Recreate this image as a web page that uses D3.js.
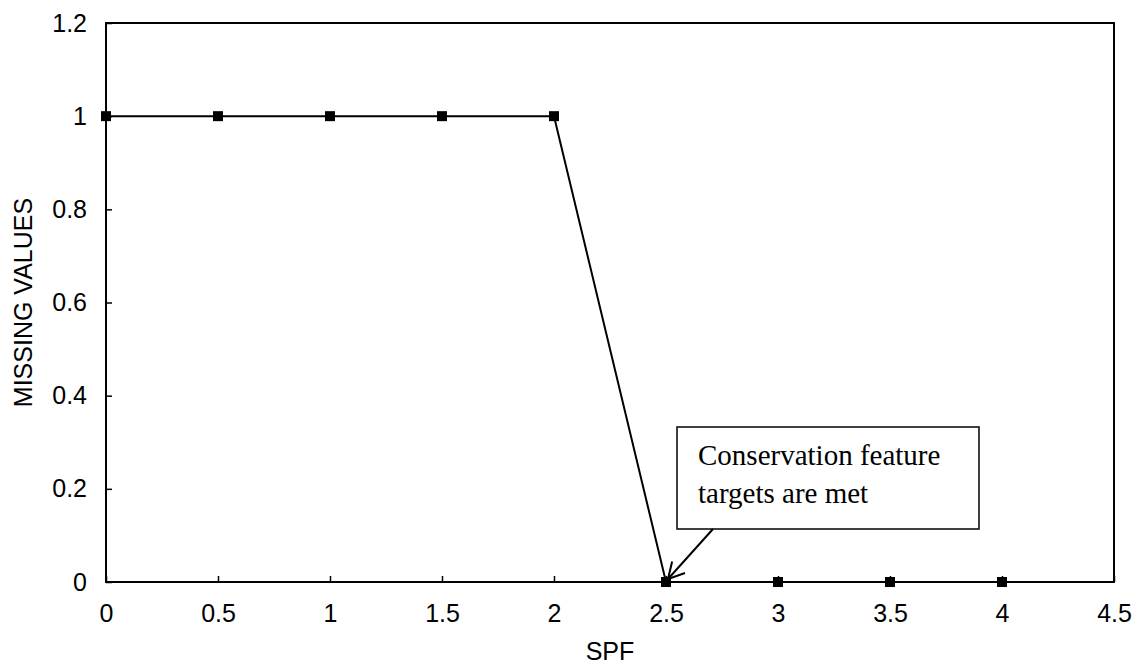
<!DOCTYPE html>
<html><head><meta charset="utf-8">
<script src="https://cdn.jsdelivr.net/npm/d3@7"></script>
<style>body{margin:0;background:#fff}</style>
</head><body>
<svg id="c" width="1142" height="664"></svg>
<script>
const spf = [0, 0.5, 1, 1.5, 2, 2.5, 3, 3.5, 4];
const missing = [1, 1, 1, 1, 1, 0, 0, 0, 0];
const xTicks = [0, 0.5, 1, 1.5, 2, 2.5, 3, 3.5, 4, 4.5];
const yTicks = [0, 0.2, 0.4, 0.6, 0.8, 1, 1.2];
const noteLines = ["Conservation feature", "targets are met"];

const svg = d3.select("#c");
const L = 106, R = 1114, T = 23, B = 582;
const x = d3.scaleLinear().domain([0, 4.5]).range([L, R]);
const y = d3.scaleLinear().domain([0, 1.2]).range([B, T]);
const font = "Liberation Sans, Arial, sans-serif";
const fs = 25;

// frame
svg.append("rect").attr("x", L).attr("y", T).attr("width", R - L).attr("height", B - T)
  .attr("fill", "none").attr("stroke", "#000").attr("stroke-width", 2);

// x axis
const xa = svg.append("g").attr("transform", `translate(0,${B})`)
  .call(d3.axisBottom(x).tickValues(xTicks).tickSizeInner(-6).tickSizeOuter(0).tickPadding(22)
    .tickFormat(d3.format("")));
xa.select(".domain").remove();
xa.selectAll("line").attr("stroke", "#000").attr("stroke-width", 1.5);
xa.selectAll("text").attr("font-family", font).attr("font-size", fs).attr("fill", "#000");

// y axis
const ya = svg.append("g").attr("transform", `translate(${L},0)`)
  .call(d3.axisLeft(y).tickValues(yTicks).tickSizeInner(-6).tickSizeOuter(0).tickPadding(19)
    .tickFormat(d3.format("")));
ya.select(".domain").remove();
ya.selectAll("line").attr("stroke", "#000").attr("stroke-width", 1.5);
ya.selectAll("text").attr("font-family", font).attr("font-size", fs).attr("fill", "#000");

// axis titles
svg.append("text").attr("x", (L + R) / 2).attr("y", 660).attr("text-anchor", "middle")
  .attr("font-family", font).attr("font-size", fs).text("SPF");
svg.append("text").attr("transform", `translate(32,${(T + B) / 2}) rotate(-90)`)
  .attr("text-anchor", "middle").attr("font-family", font).attr("font-size", fs).text("MISSING VALUES");

// data line
const pts = spf.map((d, i) => [d, missing[i]]);
svg.append("path").datum(pts)
  .attr("d", d3.line().x(d => x(d[0])).y(d => y(d[1])))
  .attr("fill", "none").attr("stroke", "#000").attr("stroke-width", 2);
svg.selectAll("rect.m").data(pts).enter().append("rect").attr("class", "m")
  .attr("x", d => x(d[0]) - 5).attr("y", d => y(d[1]) - 5)
  .attr("width", 10).attr("height", 10).attr("fill", "#000");

// annotation
const bx = 677, by = 427, bw = 302, bh = 102;
svg.append("rect").attr("x", bx).attr("y", by).attr("width", bw).attr("height", bh)
  .attr("fill", "#fff").attr("stroke", "#000").attr("stroke-width", 1.5);
noteLines.forEach((t, i) => {
  svg.append("text").attr("x", 698).attr("y", 465 + i * 38)
    .attr("font-family", "Liberation Serif, Times New Roman, serif").attr("font-size", 29).text(t);
});
const ax0 = 713, ay0 = by + bh, ax1 = x(2.5) + 2, ay1 = y(0) - 3;
svg.append("line").attr("x1", ax0).attr("y1", ay0).attr("x2", ax1).attr("y2", ay1)
  .attr("stroke", "#000").attr("stroke-width", 2);
const ang = Math.atan2(ay1 - ay0, ax1 - ax0);
const hl = 18, ha = 0.5;
[ang + Math.PI - ha, ang + Math.PI + ha].forEach(a => {
  svg.append("line").attr("x1", ax1).attr("y1", ay1)
    .attr("x2", ax1 + hl * Math.cos(a)).attr("y2", ay1 + hl * Math.sin(a))
    .attr("stroke", "#000").attr("stroke-width", 2);
});
</script>
</body></html>
